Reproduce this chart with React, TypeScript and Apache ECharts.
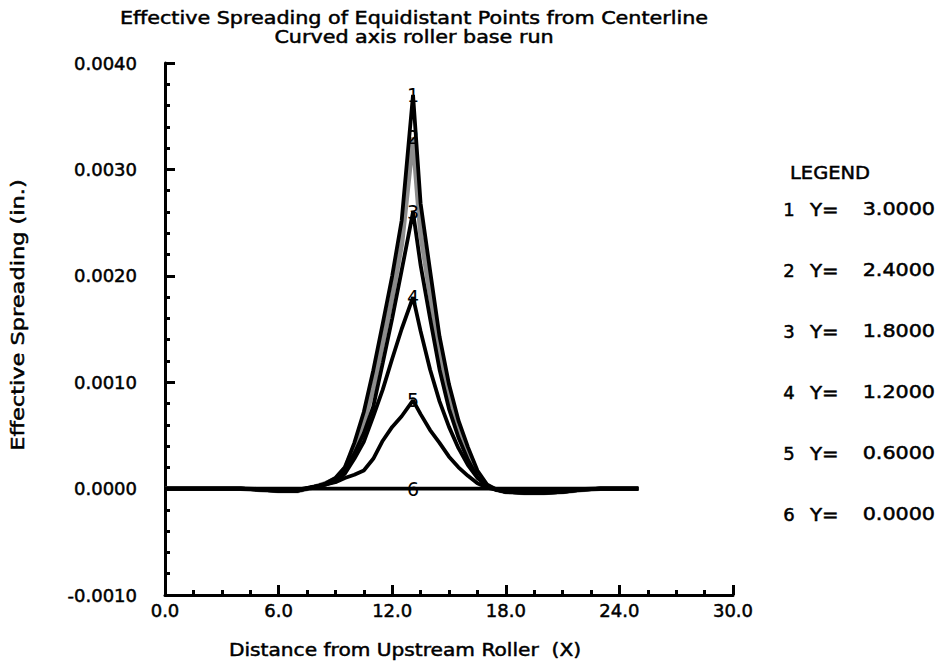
import React, { useEffect, useRef } from "react";
import * as echarts from "echarts";

const X = [0, 1, 2, 3, 4, 5, 6, 7, 8, 8.5, 9, 9.5, 10, 10.5, 11, 11.5, 12, 12.5, 13.1, 13.5, 14, 14.5, 15, 15.5, 16, 16.5, 17, 17.5, 18, 19, 20, 21, 22, 23, 24, 25];

const CURVE1 = [0, 0, 0, 0, 0, -0.00001, -0.00002, -0.00002, 0.00002, 0.00005, 0.0001, 0.0002, 0.00043, 0.00072, 0.00111, 0.00155, 0.002, 0.00252, 0.0037, 0.00268, 0.00205, 0.00143, 0.00098, 0.00064, 0.00039, 0.00017, 0.00004, -0.00001, -0.00003, -0.00004, -0.00004, -0.00003, -0.00001, 0, 0, 0];
const CURVE2 = [0, 0, 0, 0, 0, -0.00001, -0.00002, -0.00002, 0.00002, 0.00005, 0.00009, 0.00019, 0.00038, 0.00062, 0.00094, 0.00137, 0.0018, 0.0023, 0.0033, 0.0024, 0.00183, 0.00128, 0.00087, 0.00056, 0.00033, 0.00014, 0.00003, -0.00001, -0.00003, -0.00004, -0.00004, -0.00003, -0.00001, 0, 0, 0];
const CURVE3 = [0, 0, 0, 0, 0, -0.00001, -0.00002, -0.00002, 0.00002, 0.00004, 0.00008, 0.00017, 0.00033, 0.00052, 0.00077, 0.00118, 0.0016, 0.00205, 0.0026, 0.0021, 0.0016, 0.00112, 0.00075, 0.00048, 0.00027, 0.00011, 0.00002, -0.00001, -0.00003, -0.00004, -0.00004, -0.00003, -0.00001, 0, 0, 0];
const CURVE4 = [0, 0, 0, 0, 0, -0.00001, -0.00002, -0.00002, 0.00002, 0.00004, 0.00007, 0.00014, 0.00028, 0.00044, 0.00068, 0.00093, 0.00122, 0.0015, 0.0018, 0.00148, 0.00112, 0.00082, 0.00058, 0.00038, 0.00022, 0.0001, 0.00003, -0.00001, -0.00003, -0.00004, -0.00004, -0.00003, -0.00001, 0, 0, 0];
const CURVE5 = [0, 0, 0, 0, 0, -0.00001, -0.00001, -0.00001, 0.00002, 0.00004, 0.00006, 0.0001, 0.00013, 0.00017, 0.00028, 0.00045, 0.00058, 0.00068, 0.00083, 0.0007, 0.00055, 0.00043, 0.0003, 0.0002, 0.00012, 0.00005, 0.00001, -0.00001, -0.00002, -0.00003, -0.00003, -0.00002, -0.00001, 0, 0, 0];
const CURVE6 = [0, 0, 0, 0, 0, 0, 0, 0, 0, 0, 0, 0, 0, 0, 0, 0, 0, 0, 0, 0, 0, 0, 0, 0, 0, 0, 0, 0, 0, 0, 0, 0, 0, 0, 0, 0];

const CURVE_IDS = ["1", "2", "3", "4", "5", "6"];
const LEGEND_VALUES = ["3.0000", "2.4000", "1.8000", "1.2000", "0.6000", "0.0000"];
const CURVES = [CURVE1, CURVE2, CURVE3, CURVE4, CURVE5, CURVE6];
const CURVE_COLORS = ["#000000", "#8c8c8c", "#000000", "#000000", "#000000", "#000000"];

const TITLE = "Effective Spreading of Equidistant Points from Centerline\nCurved axis roller base run";
const X_NAME = "Distance from Upstream Roller  (X)";
const Y_NAME = "Effective Spreading (in.)";

const FONT = "DejaVu Sans";
const BOLDEN = { stroke: "#000", lineWidth: 0.5 };

export default function App() {
  const ref = useRef<HTMLDivElement>(null);
  useEffect(() => {
    if (!ref.current) return;
    const chart = echarts.init(ref.current, undefined, { renderer: "svg" });
    const peakIdx = X.indexOf(13.1);
    const series: any[] = CURVES.map((c, i) => ({
      type: "line",
      name: CURVE_IDS[i],
      data: X.map((x, k) => [x, c[k]]),
      showSymbol: false,
      symbol: "none",
      lineStyle: { color: CURVE_COLORS[i], width: i === 1 ? 5 : 3.8 },
      z: i === 1 ? 1 : 2,
      markPoint: {
        symbol: "circle",
        symbolSize: 1,
        itemStyle: { color: "rgba(0,0,0,0)" },
        label: {
          show: true,
          position: "inside",
          formatter: CURVE_IDS[i],
          color: "#000",
          fontSize: 19,
          fontFamily: FONT,
        },
        data: [{ coord: [X[peakIdx], c[peakIdx]] }],
      },
    }));

    const legendTexts: any[] = [
      {
        type: "text",
        x: 830,
        y: 173,
        scaleX: 1.08,
        style: { text: "LEGEND", font: `18px "${FONT}"`, fill: "#000", textAlign: "center", textVerticalAlign: "middle", ...BOLDEN },
      },
    ];
    CURVE_IDS.forEach((id, i) => {
      const y = 209 + i * 61;
      legendTexts.push({
        type: "text",
        x: 789,
        y,
        style: { text: id, font: `18px "${FONT}"`, fill: "#000", textAlign: "center", textVerticalAlign: "middle", ...BOLDEN },
      });
      legendTexts.push({
        type: "text",
        x: 810,
        y,
        scaleX: 1.1,
        style: { text: "Y=", font: `18px "${FONT}"`, fill: "#000", textAlign: "left", textVerticalAlign: "middle", ...BOLDEN },
      });
      legendTexts.push({
        type: "text",
        x: 935,
        y,
        scaleX: 1.15,
        style: { text: LEGEND_VALUES[i], font: `18px "${FONT}"`, fill: "#000", textAlign: "right", textVerticalAlign: "middle", ...BOLDEN },
      });
    });

    const axisLabelBase = {
      color: "#000",
      fontSize: 18,
      fontFamily: FONT,
      textBorderColor: "#000",
      textBorderWidth: 0.5,
    };

    chart.setOption({
      animation: false,
      backgroundColor: "#fff",
      grid: { left: 165, right: 207, top: 63, bottom: 77, containLabel: false },
      xAxis: {
        type: "value",
        min: 0,
        max: 30,
        interval: 6,
        axisLine: { show: true, onZero: false, lineStyle: { color: "#000", width: 3 } },
        axisTick: { show: true, inside: true, length: 10, lineStyle: { color: "#000", width: 3 } },
        minorTick: { show: true, splitNumber: 4, length: 5, lineStyle: { color: "#000", width: 3 } },
        splitLine: { show: false },
        axisLabel: {
          ...axisLabelBase,
          formatter: (v: number) => v.toFixed(1),
          margin: 6,
        },
      },
      yAxis: {
        type: "value",
        min: -0.001,
        max: 0.004,
        interval: 0.001,
        axisLine: { show: true, onZero: false, lineStyle: { color: "#000", width: 3 } },
        axisTick: { show: true, inside: true, length: 10, lineStyle: { color: "#000", width: 3 } },
        minorTick: { show: true, splitNumber: 5, length: 5, lineStyle: { color: "#000", width: 3 } },
        splitLine: { show: false },
        axisLabel: {
          ...axisLabelBase,
          formatter: (v: number) => v.toFixed(4),
          margin: 28,
        },
      },
      graphic: [
        {
          type: "text",
          x: 414,
          y: 27,
          scaleX: 1.15,
          style: {
            text: TITLE,
            font: `18px "${FONT}"`,
            lineHeight: 19,
            fill: "#000",
            textAlign: "center",
            textVerticalAlign: "middle",
            ...BOLDEN,
          },
        },
        {
          type: "text",
          x: 405,
          y: 650,
          scaleX: 1.12,
          style: { text: X_NAME, font: `18px "${FONT}"`, fill: "#000", textAlign: "center", textVerticalAlign: "middle", ...BOLDEN },
        },
        {
          type: "text",
          x: 18,
          y: 315,
          rotation: Math.PI / 2,
          scaleX: 1.25,
          style: { text: Y_NAME, font: `18px "${FONT}"`, fill: "#000", textAlign: "center", textVerticalAlign: "middle", ...BOLDEN },
        },
        ...legendTexts,
      ],
      series,
    });
    return () => chart.dispose();
  }, []);
  return (
    <div
      ref={ref}
      style={{ position: "fixed", left: 0, top: 0, width: 940, height: 672, background: "#fff" }}
    />
  );
}
